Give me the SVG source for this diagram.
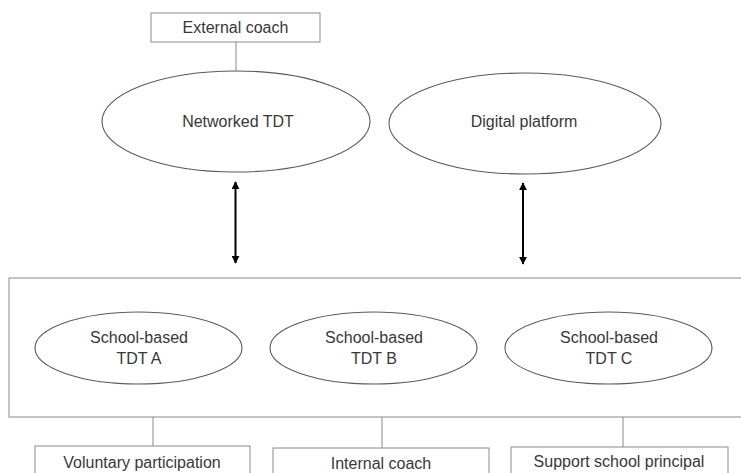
<svg xmlns="http://www.w3.org/2000/svg" width="741" height="473" viewBox="0 0 741 473">
<style>
.box{fill:#fff;stroke:#8a8a8a;stroke-width:1}
.ell{fill:#fff;stroke:#5a5a5a;stroke-width:1.1}
.ln{stroke:#8a8a8a;stroke-width:1;fill:none}
.arr{stroke:#000;stroke-width:2;fill:none;marker-start:url(#ah);marker-end:url(#ah)}
text{font-family:"Liberation Sans",Arial,sans-serif;font-size:16px;fill:#383838;text-anchor:middle}
</style>
<defs>
<marker id="ah" viewBox="0 0 10 10" refX="9" refY="5" markerWidth="4" markerHeight="4" orient="auto-start-reverse">
<path d="M0,0 L10,5 L0,10 z" fill="#000"/>
</marker>
</defs>
<rect width="741" height="473" fill="#fff"/>
<g id="connectors">
<line class="ln" x1="236" y1="42" x2="236" y2="71"/>
<line class="arr" x1="235.5" y1="182" x2="235.5" y2="263"/>
<line class="arr" x1="523" y1="183" x2="523" y2="264"/>
<line class="ln" x1="153" y1="417" x2="153" y2="446"/>
<line class="ln" x1="382" y1="417" x2="382" y2="448"/>
<line class="ln" x1="623" y1="417" x2="623" y2="447"/>
</g>
<g id="external-coach">
<rect class="box" x="151" y="13" width="169" height="29"/>
<text x="235.5" y="33">External coach</text>
</g>
<g id="networked-tdt">
<ellipse class="ell" cx="236" cy="121.5" rx="134" ry="50.5"/>
<text x="238" y="127">Networked TDT</text>
</g>
<g id="digital-platform">
<ellipse class="ell" cx="525" cy="123.5" rx="136" ry="50.5"/>
<text x="524" y="127">Digital platform</text>
</g>
<g id="school-group">
<rect class="box" x="9" y="278" width="740" height="139"/>
</g>
<g id="tdt-a">
<ellipse class="ell" cx="138.5" cy="348" rx="103.5" ry="36"/>
<text x="139" y="343">School-based</text>
<text x="139" y="364">TDT A</text>
</g>
<g id="tdt-b">
<ellipse class="ell" cx="373.5" cy="348" rx="103.5" ry="36"/>
<text x="374" y="343">School-based</text>
<text x="374" y="364">TDT B</text>
</g>
<g id="tdt-c">
<ellipse class="ell" cx="608.5" cy="348" rx="103.5" ry="36"/>
<text x="609" y="343">School-based</text>
<text x="609" y="364">TDT C</text>
</g>
<g id="voluntary">
<rect class="box" x="35" y="446" width="215" height="40"/>
<text x="142" y="468">Voluntary participation</text>
</g>
<g id="internal-coach">
<rect class="box" x="273" y="448" width="216" height="40"/>
<text x="381" y="469">Internal coach</text>
</g>
<g id="support-principal">
<rect class="box" x="511" y="447" width="217" height="40"/>
<text x="619" y="467">Support school principal</text>
</g>
</svg>
